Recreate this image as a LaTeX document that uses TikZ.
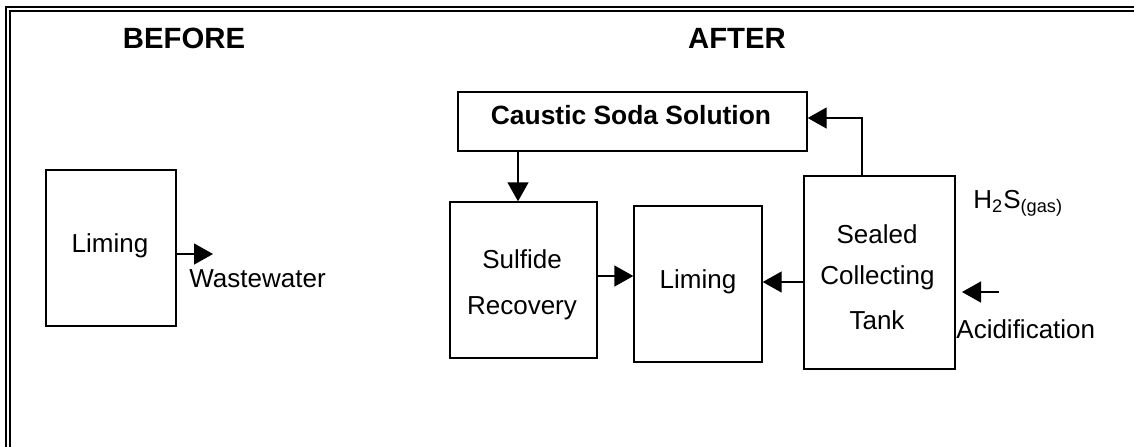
\documentclass[tikz,border=0pt]{standalone}
\usepackage{fontspec}
\setmainfont{Liberation Sans}
\usetikzlibrary{arrows.meta}
\begin{document}
\begin{tikzpicture}[x=0.5pt,y=-0.5pt,
  box/.style={draw,line width=0.7pt,inner sep=0pt},
  lbl/.style={inner sep=0pt,anchor=base,font=\fontsize{13}{15}\selectfont},
  lblw/.style={lbl,anchor=base west},
  title/.style={inner sep=0pt,anchor=base,font=\fontsize{14.65}{17}\selectfont\bfseries},
  arr/.style={line width=0.7pt,-{Triangle[length=9.5pt,width=10.5pt]}},
  frame/.style={line width=1pt}]
\useasboundingbox (0,0) rectangle (1134,446);
\clip (0,0) rectangle (1134,446);

% double border running past the page edge
\draw[frame] (6,7) rectangle (1200,520);
\draw[frame] (10,11) rectangle (1200,520);

% headings
\node[title] (before) at (184,48) {BEFORE};
\node[title] (after) at (737,48) {AFTER};

% before: single liming step
\node[box,minimum width=65pt,minimum height=78pt] (lim1) at (111,248) {};
\node[lbl] (lim1t) at (110,252) {Liming};
\coordinate (ww) at (213,254);
\draw[arr] (lim1.east |- ww) -- (ww);
\node[lblw] (wwt) at (189,287) {Wastewater};

% after: recovery loop
\node[box,minimum width=174.5pt,minimum height=29.5pt] (caustic) at (632.5,121.5) {};
\node[lbl,font=\fontsize{13.2}{15}\selectfont\bfseries] (caustict) at (631,124) {Caustic Soda Solution};

\node[box,minimum width=73.5pt,minimum height=78pt] (sulf) at (523.5,280) {};
\node[lbl] (sulft1) at (522,268) {Sulfide};
\node[lbl] (sulft2) at (522,314) {Recovery};

\node[box,minimum width=64pt,minimum height=78pt] (lim2) at (698,284) {};
\node[lbl] (lim2t) at (698,288) {Liming};

\node[box,minimum width=75.5pt,minimum height=96.5pt] (tank) at (879.5,272.5) {};
\node[lbl] (tankt1) at (877,243) {Sealed};
\node[lbl] (tankt2) at (877.5,284) {Collecting};
\node[lbl] (tankt3) at (877,329) {Tank};

\node[lblw] (h2s) at (973,208) {H\textsubscript{2}S\textsubscript{(gas)}};
\node[lblw] (acidt) at (956,338) {Acidification};

% connectors
\coordinate (dx) at (518,0);
\draw[arr] (caustic.south -| dx) -- (sulf.north -| dx);
\draw[arr] (sulf.east |- 0,276) -- (lim2.west |- 0,276);
\draw[arr] (tank.west |- 0,282) -- (lim2.east |- 0,282);
\draw[arr] (tank.north -| 862,0) |- (caustic.east |- 0,118);
\coordinate (acid) at (999,292);
\coordinate (acidtip) at (962,292);
\draw[arr] (acid) -- (acidtip);
\end{tikzpicture}
\end{document}
